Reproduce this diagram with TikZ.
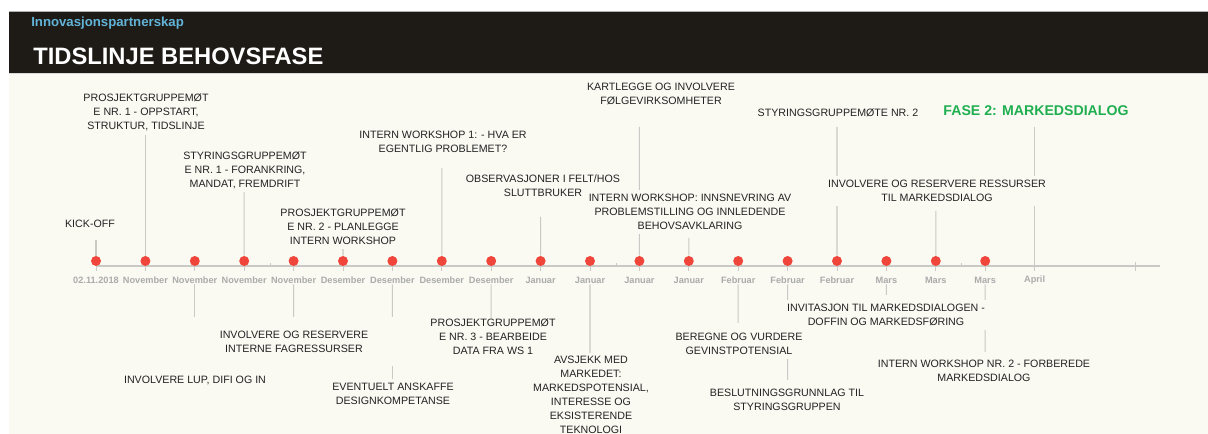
\documentclass[tikz,border=0pt]{standalone}
\usepackage{fontspec}
\setmainfont{Liberation Sans}
\definecolor{bg}{HTML}{FAFAF3}
\definecolor{hdr}{HTML}{1E1A15}
\definecolor{dotred}{HTML}{F0453A}
\definecolor{linegray}{HTML}{C9C9C6}
\definecolor{dategray}{HTML}{ABABAB}
\definecolor{txt}{HTML}{222222}
\definecolor{fasegreen}{HTML}{1FAF50}
\definecolor{subblue}{HTML}{62B3D8}
\begin{document}
\begin{tikzpicture}[x=0.75pt,y=-0.75pt,
  dot/.style={circle,fill=dotred,draw=none,minimum size=7.5pt,inner sep=0pt},
  datelbl/.style={font=\fontsize{6.9}{8}\selectfont\bfseries,text=dategray,inner sep=0.6pt},
  lbl/.style={font=\fontsize{8}{10.5}\selectfont,align=center,text=txt,fill=bg,inner sep=3pt},
  fase/.style={font=\fontsize{10.6}{12}\selectfont\bfseries,text=fasegreen,inner sep=2pt},
  conn/.style={draw=linegray,line width=0.8pt},
  axisline/.style={draw=linegray,line width=1.5pt},
  tickmark/.style={draw=linegray,line width=0.6pt}]

\useasboundingbox (0,0) rectangle (1208,434);
\fill[white] (0,0) rectangle (1208,434);
\fill[bg] (9,73) rectangle (1208,434);
\fill[hdr] (9,11) rectangle (1208,73);
\draw[gray!60,line width=0.6pt] (9,11) -- (1208,11);
\draw[gray!30,line width=0.6pt] (9,73) -- (1208,73);

\node[anchor=base west,inner sep=0,text=subblue,font=\fontsize{9.9}{12}\selectfont\bfseries] (sub) at (31,27) {Innovasjonspartnerskap};
\node[anchor=base west,inner sep=0,text=white,font=\fontsize{17.8}{20}\selectfont\bfseries] (title) at (33,65) {TIDSLINJE BEHOVSFASE};

% axis
\coordinate (axs) at (96,266);
\coordinate (axe) at (1160,266);
\draw[axisline] (axs) -- (axe);
\foreach \i in {0,...,19} \draw[tickmark] ({96+49.4*\i},266) -- ++(0,5);
\foreach \x in {270,616,961} \draw[tickmark] (\x,266) -- ++(0,-3);
\draw[tickmark] (1135,262) -- (1135,271);

% dots
\foreach \i in {0,...,18} \node[dot] (d\i) at ({96+49.4*\i},261) {};

% date labels
\foreach \lab [count=\i from 0] in {02.11.2018,November,November,November,November,Desember,Desember,Desember,Desember,Januar,Januar,Januar,Januar,Februar,Februar,Februar,Mars,Mars,Mars,April}
  \node[datelbl] (t\i) at ({96+49.4*\i},280) {\lab};

% connector free ends (above)
\coordinate (c0) at (96,240);
\coordinate (c1) at (145.4,130);
\coordinate (c3) at (244.2,188);
\coordinate (c5) at (343,245);
\coordinate (c7) at (441.8,168);
\coordinate (c9) at (540.6,217);
\coordinate (c11) at (639.4,127);
\coordinate (c12) at (688.8,238);
\coordinate (c15) at (837,127);
\coordinate (c17) at (935.8,211);
\coordinate (c19) at (1034.6,127);
\coordinate (a19) at (1034.6,266);
% connector free ends (below)
\coordinate (c2) at (194.8,317);
\coordinate (c4) at (293.6,317);
\coordinate (c6) at (392.4,317);
\coordinate (c6b) at (392.4,366);
\coordinate (c6c) at (392.4,380);
\coordinate (c8) at (491.2,318);
\coordinate (c10) at (590,353);
\coordinate (c13) at (738.2,323);
\coordinate (c14) at (787.6,380);
\coordinate (c16) at (886.4,295);
\coordinate (c18) at (985.2,352);

\foreach \i in {0,1,3,5,7,9,11,12,15,17} \draw[conn] (d\i) -- (c\i);
\draw[conn] (c19) -- (a19);
\foreach \i in {2,4,6,8,10,13,14,16,18} \draw[conn] (t\i.south) -- (c\i);
\draw[conn] (c6b) -- (c6c);

% labels above
\node[lbl] (L0) at (90,224) {KICK-OFF};
\node[lbl] (L1) at (146,112.5) {PROSJEKTGRUPPEMØT\\E NR. 1 - OPPSTART,\\STRUKTUR, TIDSLINJE};
\node[lbl] (L3) at (245,170) {STYRINGSGRUPPEMØT\\E NR. 1 - FORANKRING,\\MANDAT, FREMDRIFT};
\node[lbl] (L5) at (343,227) {PROSJEKTGRUPPEMØT\\E NR. 2 - PLANLEGGE\\INTERN WORKSHOP};
\node[lbl] (L7) at (443,142) {INTERN WORKSHOP 1: - HVA ER\\EGENTLIG PROBLEMET?};
\node[lbl] (L9) at (543,186) {OBSERVASJONER I FELT/HOS\\SLUTTBRUKER};
\node[lbl] (L11) at (661,94) {KARTLEGGE OG INVOLVERE\\FØLGEVIRKSOMHETER};
\node[lbl] (L12) at (690,212) {INTERN WORKSHOP: INNSNEVRING AV\\PROBLEMSTILLING OG INNLEDENDE\\BEHOVSAVKLARING};
\node[lbl] (L15) at (838,113) {STYRINGSGRUPPEMØTE NR. 2};
\node[lbl] (L17) at (937,191) {INVOLVERE OG RESERVERE RESSURSER\\TIL MARKEDSDIALOG};
\node[fase] (L19) at (1036,111) {FASE 2: MARKEDSDIALOG};

% labels below
\node[lbl] (B2) at (195,380) {INVOLVERE LUP, DIFI OG IN};
\node[lbl] (B4) at (294,342) {INVOLVERE OG RESERVERE\\INTERNE FAGRESSURSER};
\node[lbl] (B6) at (393,394) {EVENTUELT ANSKAFFE\\DESIGNKOMPETANSE};
\node[lbl,inner sep=0.8pt] (B10) at (591,395) {AVSJEKK MED\\MARKEDET:\\MARKEDSPOTENSIAL,\\INTERESSE OG\\EKSISTERENDE\\TEKNOLOGI};
\node[lbl,inner sep=0.5pt] (B8) at (493,337) {PROSJEKTGRUPPEMØT\\E NR. 3 - BEARBEIDE\\DATA FRA WS 1};
\node[lbl] (B13) at (739,344) {BEREGNE OG VURDERE\\GEVINSTPOTENSIAL};
\node[lbl] (B14) at (787,400) {BESLUTNINGSGRUNNLAG TIL\\STYRINGSGRUPPEN};
\node[lbl] (B16) at (886,315) {INVITASJON TIL MARKEDSDIALOGEN -\\DOFFIN OG MARKEDSFØRING};
\node[lbl] (B18) at (984,371) {INTERN WORKSHOP NR. 2 - FORBEREDE\\MARKEDSDIALOG};
\end{tikzpicture}
\end{document}
